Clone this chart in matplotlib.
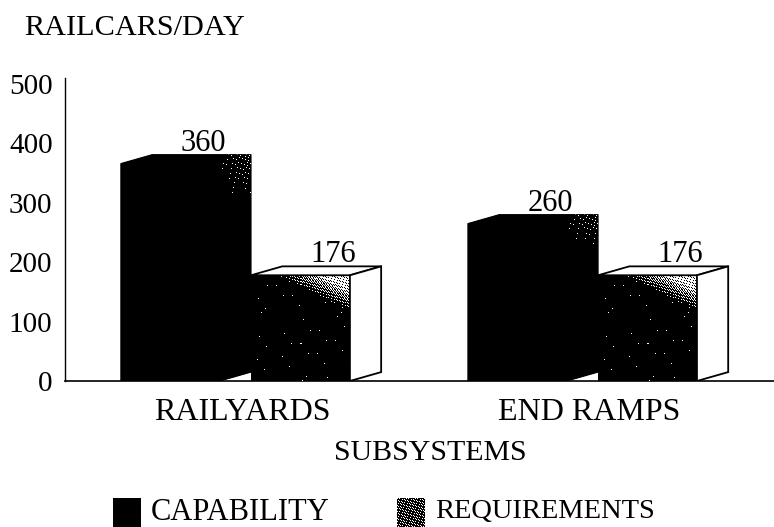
import numpy as np
import matplotlib
matplotlib.use("Agg")
import matplotlib.pyplot as plt
from matplotlib.patches import Polygon, Rectangle

plt.rcParams['font.family'] = ['Liberation Serif', 'DejaVu Serif']

categories = ["RAILYARDS", "END RAMPS"]
capability_labels = [360, 260]
requirements_labels = [176, 176]
# heights as they are drawn in the picture, a little off the printed numbers
capability = [366, 265]
requirements = [178, 178]
y_ticks = [0, 100, 200, 300, 400, 500]

W, H = 774, 527
BAR_W = 0.285
DEPTH_X = 0.09
DEPTH_Y = 15
LABEL_DROP = 5


def dither(shade):
    # interleaved gradient noise, fixed threshold per pixel so the stipple looks scanned
    h, w = shade.shape
    yy, xx = np.mgrid[0:h, 0:w]
    tile = (52.9829189 * ((0.06711056 * xx + 0.00583715 * yy) % 1)) % 1
    return (shade > tile).astype(float)


def face_pixels(ax, x0, x1, top):
    n_x = int(abs(ax.transData.transform((x1, 0))[0] - ax.transData.transform((x0, 0))[0]))
    n_y = int(abs(ax.transData.transform((0, top))[1] - ax.transData.transform((0, 0))[1]))
    return np.meshgrid(np.linspace(0, 1, n_x), np.linspace(1, 0, n_y))


def stipple_face(ax, x0, x1, top):
    # light in the top right corner, falling off to black along a shallow diagonal
    xx, yy = face_pixels(ax, x0, x1, top)
    s = yy - 1 + (xx - 0.25) * 0.46
    shade = np.clip(s / 0.22, 0, 1) * 0.8 + 0.004
    ax.imshow(dither(shade), extent=(x0, x1, 0, top), cmap="gray", vmin=0, vmax=1,
              interpolation="nearest", aspect="auto", zorder=3)


def black_bar(ax, x, v):
    pts = [(x, 0), (x, v), (x + DEPTH_X, v + DEPTH_Y), (x + BAR_W + DEPTH_X, v + DEPTH_Y),
           (x + BAR_W + DEPTH_X, DEPTH_Y), (x + BAR_W, 0)]
    poly = Polygon(pts, closed=True, fc="black", ec="black", lw=0.8, zorder=2)
    ax.add_patch(poly)
    # few specks near the top right of the black bar
    x1 = x + BAR_W + DEPTH_X
    xx, yy = face_pixels(ax, x, x1, v + DEPTH_Y)
    s = np.clip((xx - 0.75) / 0.25, 0, 1) * np.clip((yy - 0.8) / 0.2, 0, 1)
    im = ax.imshow(dither(s * 0.14), extent=(x, x1, 0, v + DEPTH_Y), cmap="gray", vmin=0, vmax=1,
                   interpolation="nearest", aspect="auto", zorder=2.5)
    im.set_clip_path(poly)


def open_bar(ax, x, v):
    x1 = x + BAR_W
    top = [(x, v), (x + DEPTH_X, v + DEPTH_Y), (x1 + DEPTH_X, v + DEPTH_Y), (x1, v)]
    side = [(x1, 0), (x1, v), (x1 + DEPTH_X, v + DEPTH_Y), (x1 + DEPTH_X, DEPTH_Y)]
    ax.add_patch(Polygon(top, closed=True, fc="white", ec="black", lw=1.3, zorder=4))
    ax.add_patch(Polygon(side, closed=True, fc="white", ec="black", lw=1.3, zorder=4))
    stipple_face(ax, x, x1, v)


fig = plt.figure(figsize=(W / 100, H / 100), dpi=100)
ax = fig.add_axes([65 / W, (H - 381) / H, (W - 65) / W, 297 / H])
ax.set_xlim(-0.536, 1.507)
ax.set_ylim(0, 500)
ax.patch.set_alpha(0)

for s in ("top", "right"):
    ax.spines[s].set_visible(False)
ax.spines["left"].set_bounds(0, 510)
ax.spines["left"].set_linewidth(1.0)
ax.spines["bottom"].set_linewidth(1.2)
ax.set_yticks(y_ticks)
ax.tick_params(axis="y", length=0, labelsize=21, pad=9)
ax.tick_params(axis="x", length=0, labelsize=23, pad=12)

centers = np.arange(len(categories))
ax.set_xticks(centers - 0.025)
ax.set_xticklabels(categories)

for i in centers:
    cap_x = i - BAR_W - DEPTH_X
    black_bar(ax, cap_x, capability[i])
    open_bar(ax, i, requirements[i])
    ax.text(cap_x + BAR_W / 2 + DEPTH_X + 0.005, capability[i] + DEPTH_Y - LABEL_DROP,
            str(capability_labels[i]), ha="center", va="bottom", fontsize=22, zorder=5)
    ax.text(i + BAR_W / 2 + DEPTH_X + 0.005, requirements[i] + DEPTH_Y - LABEL_DROP,
            str(requirements_labels[i]), ha="center", va="bottom", fontsize=22, zorder=5)
ax.set_xlim(-0.536, 1.507)
ax.set_ylim(0, 500)

fig.text(24 / W, 1 - 28 / H, "RAILCARS/DAY", fontsize=21.8, ha="left", va="center")
fig.text(430 / W, 1 - 453 / H, "SUBSYSTEMS", fontsize=21.5, ha="center", va="center")

# legend sits on the bottom edge and gets cut off like the scan
fig.patches.append(Rectangle((113 / W, 0), 28 / W, 29 / H, transform=fig.transFigure,
                             fc="black", ec="none"))
fig.text(151 / W, 1 - 512 / H, "CAPABILITY", fontsize=22, ha="left", va="center")
leg_ax = fig.add_axes([397 / W, 0, 28 / W, 29 / H])
leg_ax.imshow(dither(np.full((29, 28), 0.22)), cmap="gray", vmin=0, vmax=1,
              interpolation="nearest", aspect="auto")
leg_ax.axis("off")
fig.text(435 / W, 1 - 512 / H, "REQUIREMENTS", fontsize=20.5, ha="left", va="center")

fig.savefig("out.png", dpi=100)
